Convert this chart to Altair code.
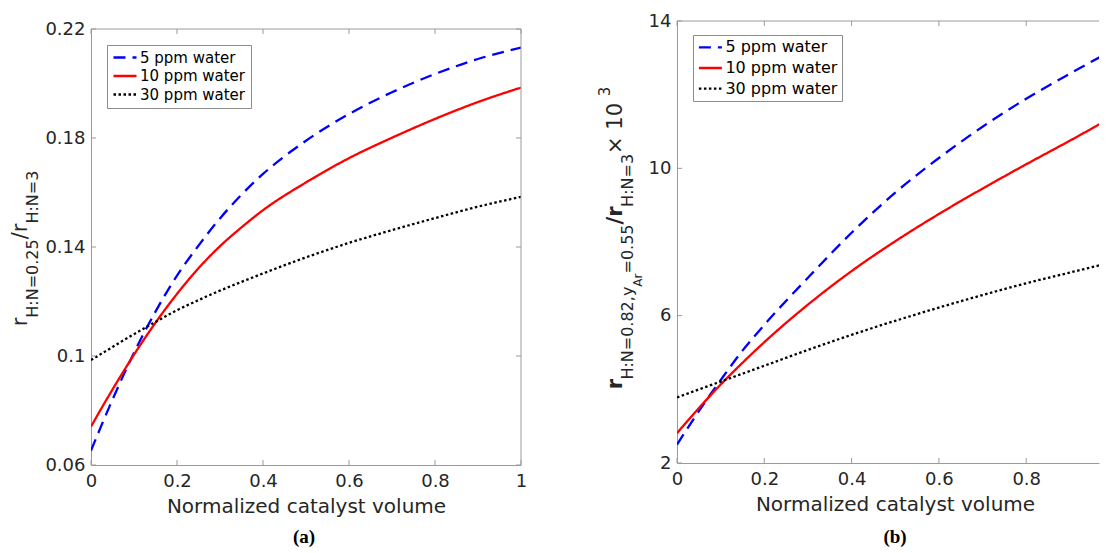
import altair as alt
import pandas as pd

SERIES = ["5 ppm water", "10 ppm water", "30 ppm water"]
COLORS = ["#0000ff", "#ff0000", "#000000"]
DASHES = [[12, 7], [1, 0], [2.5, 2.5]]

# ---- panel (a) ----
xa = [0, 0.025, 0.05, 0.075, 0.1, 0.15, 0.2, 0.25, 0.3, 0.35, 0.4, 0.5, 0.6, 0.7, 0.8, 0.9, 1.0]
a_5 = [0.0653, 0.0748, 0.0840, 0.0928, 0.1012, 0.1163, 0.1295, 0.1405, 0.1505, 0.1592,
       0.1668, 0.1790, 0.1888, 0.1968, 0.2035, 0.2090, 0.2132]
a_10 = [0.0741, 0.0810, 0.0877, 0.0942, 0.1005, 0.1122, 0.1228, 0.1322, 0.1403, 0.1472,
        0.1535, 0.1637, 0.1726, 0.1801, 0.1870, 0.1932, 0.1985]
a_30 = [0.0985, 0.1009, 0.1033, 0.1057, 0.1080, 0.1125, 0.1168, 0.1205, 0.1240, 0.1272,
        0.1303, 0.1362, 0.1415, 0.1462, 0.1506, 0.1548, 0.1584]
a_xticks = [0, 0.2, 0.4, 0.6, 0.8, 1.0]
a_yticks = [0.06, 0.1, 0.14, 0.18, 0.22]

# ---- panel (b) ----
xb = [0, 0.03, 0.06, 0.1, 0.15, 0.2, 0.3, 0.4, 0.5, 0.6, 0.7, 0.8, 0.9, 1.0]
b_5 = [2.5, 3.05, 3.58, 4.25, 5.05, 5.75, 7.03, 8.25, 9.34, 10.28, 11.13, 11.89, 12.57, 13.22]
b_10 = [2.81, 3.22, 3.62, 4.13, 4.72, 5.28, 6.30, 7.21, 8.02, 8.76, 9.45, 10.11, 10.75, 11.41]
b_30 = [3.78, 3.91, 4.04, 4.21, 4.425, 4.64, 5.07, 5.48, 5.86, 6.22, 6.56, 6.88, 7.17, 7.46]
b_xticks = [0, 0.2, 0.4, 0.6, 0.8]
b_yticks = [2, 6, 10, 14]

XTITLE = "Normalized catalyst volume"
A_YTITLE = [("r", 21, 0, False), ("H:N=0.25", 16, 11, False), ("/", 21, 0, False),
            ("r", 21, 0, False), ("H:N=3", 16, 11, False)]
B_YTITLE = [("r", 21, 0, True), ("H:N=0.82,y", 16, 11, False), ("Ar", 12, 20, False),
            ("=0.55", 16, 11, False), ("/r", 21, 0, True), ("H:N=3", 16, 11, False),
            (" × 10", 21, 0, False), ("3", 15, -12, False)]

FONT = "DejaVu Sans"
TXT = "#262626"
FRAME = "#9a9a9a"

EM = {"H": 0.752, ":": 0.337, "N": 0.748, "=": 0.838, ".": 0.318, ",": 0.318, "y": 0.592,
      "A": 0.684, "r": 0.411, "/": 0.337, " ": 0.318, "×": 0.838}


def tw(s, fs, bold):
    w = sum(EM.get(c, 0.636) for c in s) * fs
    return w * (1.12 if bold else 1.0)


def line_df(xs, vals):
    rows = []
    for name, ys in zip(SERIES, vals):
        for x, y in zip(xs, ys):
            rows.append({"x": x, "y": y, "s": name})
    return pd.DataFrame(rows)


def one(t=""):
    return pd.DataFrame({"t": [t]})


def panel(xs, vals, xdom, ydom, xticks, yticks, W, H, top, leg, legfs, legrow, legpad,
          segs, base_x, center_y, lab, lab_x, lab_y, anchors, right_border, title_x):
    xs_ = alt.Scale(domain=xdom, nice=False, zero=False)
    ys_ = alt.Scale(domain=ydom, nice=False, zero=False, range=[H, top])
    xaxis = alt.Axis(
        values=xticks, format="~g", title=XTITLE, grid=False, ticks=False,
        domainColor=FRAME, labelFontSize=18, labelColor=TXT, labelPadding=7,
        labelFont=FONT, titleFont=FONT, titleFontSize=20, titleColor=TXT,
        titleFontWeight="normal", titlePadding=6, labelFlush=False, titleX=title_x)
    yaxis = alt.Axis(
        values=yticks, format="~g", title="", grid=False, ticks=False,
        domainColor=FRAME, labelFontSize=18, labelColor=TXT, labelPadding=6,
        labelFont=FONT, labelFlush=False)
    legend = alt.Legend(title=None, orient="none", legendX=leg[0], legendY=top + leg[1],
                        symbolType="stroke", symbolSize=529, symbolStrokeWidth=2.3,
                        labelFontSize=legfs, labelFont=FONT, labelColor="#000000",
                        padding=legpad, rowPadding=legrow, labelOffset=2,
                        clipHeight=legfs,
                        strokeColor="#8c8c8c", fillColor="#ffffff")
    lines = alt.Chart(line_df(xs, vals)).mark_line(
        clip=True, strokeWidth=2.3, interpolate="monotone", strokeCap="butt"
    ).encode(
        x=alt.X("x:Q", scale=xs_, axis=xaxis),
        y=alt.Y("y:Q", scale=ys_, axis=yaxis),
        color=alt.Color("s:N", scale=alt.Scale(domain=SERIES, range=COLORS), legend=legend),
        strokeDash=alt.StrokeDash("s:N", scale=alt.Scale(domain=SERIES, range=DASHES),
                                  legend=legend),
        order=alt.Order("s:N"),
    )
    layers = [lines]
    xt = alt.Chart(pd.DataFrame({"v": xticks})).mark_rule(color=FRAME, strokeWidth=1)
    layers.append(xt.encode(x=alt.X("v:Q", scale=xs_, axis=xaxis),
                            y=alt.value(H), y2=alt.value(H - 5)))
    layers.append(xt.encode(x=alt.X("v:Q", scale=xs_, axis=xaxis),
                            y=alt.value(top), y2=alt.value(top + 5)))
    yt = alt.Chart(pd.DataFrame({"v": yticks})).mark_rule(color=FRAME, strokeWidth=1)
    layers.append(yt.encode(y=alt.Y("v:Q", scale=ys_, axis=yaxis),
                            x=alt.value(0), x2=alt.value(5)))
    layers.append(alt.Chart(one()).mark_rule(color=FRAME, strokeWidth=1).encode(
        x=alt.value(0), x2=alt.value(W), y=alt.value(top)))
    if right_border:
        layers.append(yt.encode(y=alt.Y("v:Q", scale=ys_, axis=yaxis),
                                x=alt.value(W), x2=alt.value(W - 5)))
        layers.append(alt.Chart(one()).mark_rule(color=FRAME, strokeWidth=1).encode(
            x=alt.value(W), y=alt.value(top), y2=alt.value(H)))
    # composed y-axis title with sub/superscripts
    total = sum(tw(t, fs, b) for t, fs, sh, b in segs)
    y = top + center_y + total / 2
    for t, fs, sh, b in segs:
        layers.append(alt.Chart(one(t)).mark_text(
            angle=270, align="left", baseline="alphabetic", font=FONT, fontSize=fs,
            fontWeight="bold" if b else "normal", color=TXT
        ).encode(x=alt.value(base_x + sh), y=alt.value(y), text="t:N"))
        y -= tw(t, fs, b)
    # panel label
    layers.append(alt.Chart(one(lab)).mark_text(
        font="Liberation Serif", fontSize=19, fontWeight="bold", color="#000000",
        align="center", baseline="alphabetic"
    ).encode(x=alt.value(lab_x), y=alt.value(lab_y), text="t:N"))
    # invisible layout anchors
    for ax, ay in anchors:
        layers.append(alt.Chart(one()).mark_rule(opacity=0, strokeWidth=0).encode(
            x=alt.value(ax), y=alt.value(ay), y2=alt.value(ay + 1)))
    return alt.layer(*layers).properties(width=W, height=H)


WB = 422
left = panel(xa, [a_5, a_10, a_30], [0, 1], [0.06, 0.22], a_xticks, a_yticks,
             430, 444, 8, (16, 16), 15, 2.5, 5, A_YTITLE, -64, 219.5, "(a)", 213, 522,
             [(-83, -13), (470, -13)], True, 215)
right = panel(xb, [b_5, b_10, b_30], [0, WB / 436.5], [2, 14], b_xticks, b_yticks,
              WB, 442, 0, (16, 14), 16, 4.6, 4.4, B_YTITLE, -55, 217, "(b)", 218, 522,
              [(-100, -13)], False, 218)

chart = alt.hconcat(left, right, spacing=16).resolve_scale(
    color="independent", strokeDash="independent"
).resolve_legend(
    color="independent", strokeDash="independent"
).properties(
    padding={"left": 0, "top": 0, "right": 0, "bottom": 0}
).configure_view(strokeWidth=0)

chart.save("out.html", embed_options={"renderer": "svg", "actions": False})
